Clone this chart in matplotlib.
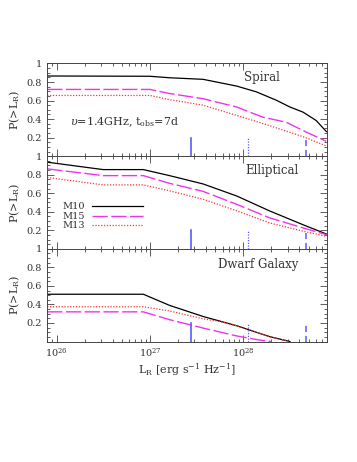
import numpy as np
import matplotlib
matplotlib.use("Agg")
import matplotlib.pyplot as plt
from matplotlib.ticker import FixedLocator, MultipleLocator, NullFormatter, LogLocator

plt.rcParams['font.family'] = ['DejaVu Serif']
plt.rcParams['mathtext.fontset'] = 'dejavuserif'

# ---- data (log10 L_R, P(>L_R)) ----
panels = ["Spiral", "Elliptical", "Dwarf Galaxy"]
models = ["M10", "M15", "M13"]

spiral_m10_logL = [25.9, 27.0, 27.21, 27.57, 27.93, 28.14, 28.355, 28.5, 28.64, 28.78, 28.89]
spiral_m10_P = [0.865, 0.862, 0.846, 0.829, 0.756, 0.694, 0.603, 0.53, 0.475, 0.385, 0.265]
spiral_m15_logL = [25.9, 27.0, 27.21, 27.57, 27.93, 28.21, 28.46, 28.68, 28.89]
spiral_m15_P = [0.72, 0.72, 0.676, 0.62, 0.53, 0.42, 0.366, 0.257, 0.16]
spiral_m13_logL = [25.9, 27.0, 27.21, 27.57, 27.93, 28.28, 28.64, 28.89]
spiral_m13_P = [0.655, 0.655, 0.61, 0.55, 0.44, 0.33, 0.21, 0.11]

ell_logL = [25.9, 26.5, 26.93, 27.21, 27.57, 27.93, 28.28, 28.64, 28.89]
ell_m10_P = [0.935, 0.855, 0.855, 0.79, 0.70, 0.57, 0.41, 0.26, 0.16]
ell_m15_P = [0.863, 0.79, 0.79, 0.707, 0.62, 0.48, 0.335, 0.226, 0.153]
ell_m13_P = [0.77, 0.69, 0.69, 0.626, 0.535, 0.41, 0.28, 0.19, 0.135]

dw_m10_logL = [25.9, 26.93, 27.21, 27.57, 27.93, 28.28, 28.5]
dw_m10_P = [0.51, 0.51, 0.39, 0.27, 0.17, 0.053, 0.0]
dw_m13_logL = [25.9, 26.93, 27.21, 27.57, 27.75, 27.93, 28.28, 28.5]
dw_m13_P = [0.375, 0.375, 0.33, 0.245, 0.215, 0.17, 0.053, 0.0]
dw_m15_logL = [25.9, 26.93, 27.21, 27.57, 27.93, 28.17, 28.3]
dw_m15_P = [0.32, 0.32, 0.236, 0.145, 0.06, 0.016, 0.0]

# vertical marker lines
vline_L = [2.75e27, 1.12e28, 4.7e28]
vline_height = 0.2

series = {
    "Spiral": [(spiral_m10_logL, spiral_m10_P), (spiral_m15_logL, spiral_m15_P), (spiral_m13_logL, spiral_m13_P)],
    "Elliptical": [(ell_logL, ell_m10_P), (ell_logL, ell_m15_P), (ell_logL, ell_m13_P)],
    "Dwarf Galaxy": [(dw_m10_logL, dw_m10_P), (dw_m15_logL, dw_m15_P), (dw_m13_logL, dw_m13_P)],
}

styles = [dict(color='black', lw=0.9, ls='-'),
          dict(color='#ee33ee', lw=1.0, dashes=(11, 2.5)),
          dict(color='#ff3333', lw=0.9, dashes=(1, 1.3))]
vstyles = [dict(ls='-', lw=1.2), dict(ls=(0, (1, 1.2)), lw=0.9), dict(ls=(0, (4, 2.5)), lw=1.1)]
vcolor = '#5a5aff'

fig = plt.figure(figsize=(3.57, 4.62), dpi=100)
left, width = 0.1308, 0.784
top, bottom = 0.8626, 0.2608
h = (top - bottom) / 3

fs = 7
label_pos = {"Spiral": (0.768, 0.846), "Elliptical": (0.804, 0.843), "Dwarf Galaxy": (0.755, 0.827)}

axes = []
for i, name in enumerate(panels):
    ax = fig.add_axes([left, top - (i + 1) * h, width, h])
    axes.append(ax)
    ax.set_xscale('log')
    for (lx, py), st, m in zip(series[name], styles, models):
        ax.plot(10 ** np.array(lx), py, label=m, **st)
    for L, vs in zip(vline_L, vstyles):
        ax.plot([L, L], [0, vline_height], color=vcolor, **vs)
    ax.set_xlim(7.85e25, 7.8e28)
    ax.set_ylim(0, 1)
    ax.yaxis.set_major_locator(FixedLocator([0.2, 0.4, 0.6, 0.8, 1.0]))
    ax.set_yticklabels(['0.2', '0.4', '0.6', '0.8', '1'])
    ax.yaxis.set_minor_locator(MultipleLocator(0.05))
    ax.xaxis.set_major_locator(LogLocator(base=10, numticks=10))
    ax.xaxis.set_minor_locator(LogLocator(base=10, subs=np.arange(2, 10), numticks=20))
    ax.xaxis.set_minor_formatter(NullFormatter())
    ax.tick_params(which='both', direction='in', top=True, right=True, labelsize=fs, width=0.6,
                   color='#444444', labelcolor='#333333')
    ax.tick_params(which='major', length=5)
    ax.tick_params(which='minor', length=2.5)
    for sp in ax.spines.values():
        sp.set_linewidth(0.7)
        sp.set_color('#444444')
    ax.set_ylabel(r'P(>L$_{\rm R}$)', fontsize=8, labelpad=3, color='#333333')
    ax.text(*label_pos[name], name, transform=ax.transAxes, ha='center', va='center', fontsize=8.5,
            color='#333333')
    if i < 2:
        ax.tick_params(labelbottom=False)

axes[0].text(0.278, 0.37, r'$\upsilon$=1.4GHz, t$_{\rm obs}$=7d', transform=axes[0].transAxes,
             ha='center', va='center', fontsize=8, color='#333333')

leg = axes[1].legend(loc='upper left', bbox_to_anchor=(0.055, 0.5), frameon=False, markerfirst=False,
                     fontsize=fs, handlelength=5.2, handletextpad=0.8, labelspacing=0.05,
                     borderpad=0, borderaxespad=0)
for t in leg.get_texts():
    t.set_color('#333333')

axes[2].set_xlabel(r'L$_{\rm R}$ [erg s$^{-1}$ Hz$^{-1}$]', fontsize=8, labelpad=2, color='#333333')

fig.savefig('out.png', dpi=100)
